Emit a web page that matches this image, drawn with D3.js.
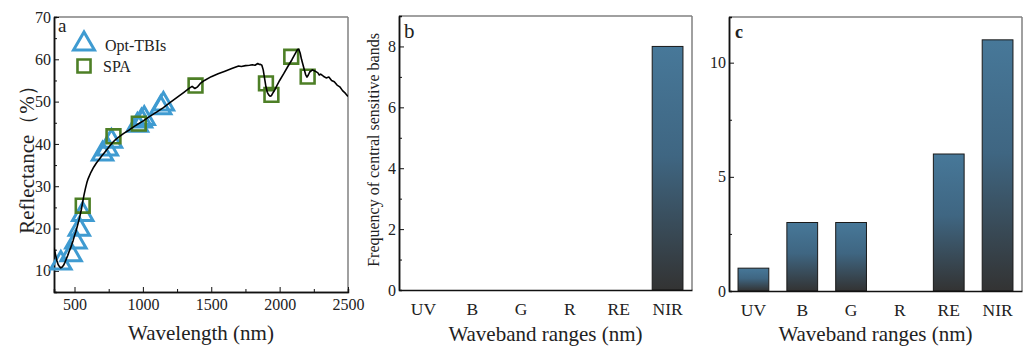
<!DOCTYPE html>
<html lang="en">
<head>
    <meta charset="UTF-8">
    <title>Sensitive bands</title>
    <script src="https://cdnjs.cloudflare.com/ajax/libs/d3/7.8.5/d3.min.js"></script>
    <style>
        body { margin: 0; background: #fff; }
        svg text { font-family: "Times New Roman", "Liberation Serif", Times, "DejaVu Serif", serif; fill: #222; }
    </style>
</head>
<body>
<div id="chart_holder"></div>

<script>
    var width = 1026;
    var height = 349;
    var serif = "'Times New Roman', 'Liberation Serif', Times, 'DejaVu Serif', serif";

    // reflectance spectrum (panel a)
    var specWl = [350,360,370,380,390,400,410,420,430,440,450,460,470,480,490,500,510,520,530,540,550,560,570,580,590,600,620,640,660,680,700,720,740,760,780,800,830,860,900,940,980,1000,1050,1100,1150,1200,1250,1300,1340,1360,1380,1400,1420,1450,1500,1550,1600,1650,1700,1720,1750,1780,1800,1820,1840,1850,1860,1870,1880,1890,1900,1910,1920,1930,1940,1950,1960,1980,2000,2030,2060,2090,2110,2130,2140,2150,2160,2180,2190,2200,2210,2220,2240,2260,2280,2290,2300,2320,2340,2360,2380,2400,2420,2440,2460,2480,2500];
    var specRefl = [15.5,14,12.5,11.5,11,10.7,10.9,11.3,12,12.8,13.6,14.5,15.3,16.2,17.2,18.3,19.3,20.5,21.7,23,24.5,26.3,28,29.5,30.8,31.8,33.3,34.5,35.5,36.3,37.2,38,38.8,39.6,40.4,41,41.8,42.5,43.3,44.2,45,45.4,46.5,47.5,48.6,49.8,51,52.2,53.2,53.6,53.1,53.5,54.3,55,55.9,56.6,57.2,57.8,58.4,58.3,58.5,58.6,58.7,58.6,59,58.8,58.8,58.6,57.5,55.5,53.5,52.2,51.6,51.3,51.4,52,52.5,53.8,55,56.6,58.3,59.9,61.1,62.3,62.4,61.5,60,57.6,56.4,55.8,56.3,57,57.5,57.2,56.8,56.3,56.5,56,55.6,55.8,55,54.7,53.9,53.5,52.6,52,51.2];

    // selected bands
    var tbiWl = [400,475,510,535,560,705,740,770,960,990,1010,1130,1150];
    var tbiRefl = [11.8,13.8,16.8,19.8,23.3,37.6,38.8,40.6,44.4,45.4,46,48.5,49.4];
    var spaWl = [560,785,970,1385,1900,1940,2085,2205];
    var spaRefl = [25.4,41.8,44.8,53.8,54.3,51.6,60.6,55.9];

    // panels b and c
    var bands = ["UV", "B", "G", "R", "RE", "NIR"];
    var freqB = [0, 0, 0, 0, 0, 8];
    var freqC = [1, 3, 3, 0, 6, 11];

    var svg = d3.select("#chart_holder")
        .append("svg")
        .attr("width", width)
        .attr("height", height);
    svg.append("rect")
        .attr("width", "100%")
        .attr("height", "100%")
        .attr("fill", "#ffffff");

    var defs = svg.append("defs");
    var grad = defs.append("linearGradient")
        .attr("id", "barGrad")
        .attr("x1", 0).attr("y1", 0)
        .attr("x2", 0).attr("y2", 1);
    grad.append("stop").attr("offset", "0%").attr("stop-color", "#477899");
    grad.append("stop").attr("offset", "45%").attr("stop-color", "#3f6682");
    grad.append("stop").attr("offset", "100%").attr("stop-color", "#333333");

    function frame(g, l, r, t, b) {
        g.append("line").attr("x1", l).attr("x2", r).attr("y1", t).attr("y2", t)
            .attr("stroke", "#808080").attr("stroke-width", 1.5);
        g.append("line").attr("x1", r).attr("x2", r).attr("y1", t).attr("y2", b)
            .attr("stroke", "#808080").attr("stroke-width", 1.5);
    }

    function styleAxis(sel, size) {
        sel.attr("font-family", serif);
        sel.selectAll(".domain").attr("stroke", "#111").attr("stroke-width", 1.5);
        sel.selectAll(".tick line").attr("stroke", "#111");
        sel.selectAll("text")
            .style("font-family", serif)
            .style("font-size", size || "16px")
            .attr("fill", "#222");
    }

    // ---------- panel a ----------
    var aL = 54, aR = 348, aT = 17, aB = 292;
    var xA = d3.scaleLinear().domain([350, 2500]).range([aL, aR]);
    var yA = d3.scaleLinear().domain([5, 70]).range([aB, aT]);

    var ga = svg.append("g");
    frame(ga, aL, aR, aT, aB);

    ga.append("g").attr("transform", "translate(0," + aB + ")")
        .call(d3.axisBottom(xA).tickValues([750, 1250, 1750, 2250]).tickSize(-3).tickFormat(""))
        .call(styleAxis);
    ga.append("g").attr("transform", "translate(0," + aB + ")")
        .call(d3.axisBottom(xA).tickValues([500, 1000, 1500, 2000, 2500]).tickFormat(d3.format("d"))
            .tickSizeInner(-5).tickSizeOuter(0).tickPadding(7))
        .call(styleAxis);
    ga.append("g").attr("transform", "translate(" + aL + ",0)")
        .call(d3.axisLeft(yA).tickValues([15, 25, 35, 45, 55, 65]).tickSize(-3).tickFormat(""))
        .call(styleAxis);
    ga.append("g").attr("transform", "translate(" + aL + ",0)")
        .call(d3.axisLeft(yA).tickValues([10, 20, 30, 40, 50, 60, 70]).tickSizeInner(-5).tickSizeOuter(0).tickPadding(3))
        .call(styleAxis);

    defs.append("clipPath").attr("id", "clipA")
        .append("rect").attr("x", aL).attr("y", aT).attr("width", aR - aL).attr("height", aB - aT);

    var tri = d3.symbol().type(d3.symbolTriangle).size(180);
    var sq = d3.symbol().type(d3.symbolSquare).size(190);

    ga.selectAll(".tri")
        .data(tbiWl.map(function (w, i) { return [w, tbiRefl[i]]; }))
        .enter()
        .append("path")
        .attr("d", tri)
        .attr("transform", function (d) { return "translate(" + xA(d[0]) + "," + yA(d[1]) + ")"; })
        .attr("fill", "none")
        .attr("stroke", "#3f9bd1")
        .attr("stroke-width", 3);

    ga.selectAll(".sq")
        .data(spaWl.map(function (w, i) { return [w, spaRefl[i]]; }))
        .enter()
        .append("path")
        .attr("d", sq)
        .attr("transform", function (d) { return "translate(" + xA(d[0]) + "," + yA(d[1]) + ")"; })
        .attr("fill", "none")
        .attr("stroke", "#4d7f26")
        .attr("stroke-width", 2.6);

    var spec = specWl.map(function (w, i) { return [w, specRefl[i]]; });
    ga.append("path")
        .datum(spec)
        .attr("clip-path", "url(#clipA)")
        .attr("d", d3.line().x(function (d) { return xA(d[0]); }).y(function (d) { return yA(d[1]); }))
        .attr("fill", "none")
        .attr("stroke", "#000")
        .attr("stroke-width", 1.6)
        .attr("stroke-linejoin", "round");

    // legend
    ga.append("path").attr("d", d3.symbol().type(d3.symbolTriangle).size(190))
        .attr("transform", "translate(84,44)")
        .attr("fill", "none").attr("stroke", "#3f9bd1").attr("stroke-width", 3);
    ga.append("text").attr("x", 105).attr("y", 51).style("font-size", "16px").text("Opt-TBIs");
    ga.append("path").attr("d", d3.symbol().type(d3.symbolSquare).size(170))
        .attr("transform", "translate(84,66)")
        .attr("fill", "none").attr("stroke", "#4d7f26").attr("stroke-width", 2.6);
    ga.append("text").attr("x", 103).attr("y", 72).style("font-size", "16px").text("SPA");

    ga.append("text").attr("x", 58).attr("y", 32).style("font-size", "19px").text("a");

    ga.append("text")
        .attr("transform", "translate(34," + ((aT + aB) / 2) + ") rotate(-90)")
        .attr("text-anchor", "middle")
        .style("font-size", "21px")
        .text("Reflectance（%）");
    ga.append("text")
        .attr("x", (aL + aR) / 2).attr("y", 340)
        .attr("text-anchor", "middle")
        .style("font-size", "21px")
        .text("Wavelength (nm)");

    // ---------- bar panels ----------
    function barPanel(l, r, t, b, yMax, major, minor, values, letter, letterStyle) {
        var g = svg.append("g");
        var x = d3.scaleBand().domain(bands).range([l, r]).paddingInner(0.37).paddingOuter(0.185);
        var y = d3.scaleLinear().domain([0, yMax]).range([b, t]);
        frame(g, l, r, t, b);

        g.selectAll(".bar")
            .data(values.map(function (v, i) { return {k: bands[i], v: v}; }).filter(function (d) { return d.v > 0; }))
            .enter()
            .append("rect")
            .attr("x", function (d) { return x(d.k); })
            .attr("y", function (d) { return y(d.v); })
            .attr("width", x.bandwidth())
            .attr("height", function (d) { return b - y(d.v); })
            .attr("fill", "url(#barGrad)")
            .attr("stroke", "#1a1a1a")
            .attr("stroke-width", 1);

        g.append("g").attr("transform", "translate(" + l + ",0)")
            .call(d3.axisLeft(y).tickValues(minor).tickSize(-3).tickFormat(""))
            .call(styleAxis);
        g.append("g").attr("transform", "translate(" + l + ",0)")
            .call(d3.axisLeft(y).tickValues(major).tickSizeInner(-5).tickSizeOuter(0).tickPadding(3))
            .call(styleAxis);
        g.append("g").attr("transform", "translate(0," + b + ")")
            .call(d3.axisBottom(x).tickSize(0).tickPadding(13))
            .call(styleAxis, "17.5px");

        g.append("text")
            .attr("x", (l + r) / 2).attr("y", 341)
            .attr("text-anchor", "middle")
            .style("font-size", "21px")
            .text("Waveband ranges (nm)");

        g.append("text").attr("x", letterStyle.x).attr("y", letterStyle.y)
            .style("font-size", letterStyle.size)
            .style("font-weight", letterStyle.weight)
            .text(letter);
        return g;
    }

    var gb = barPanel(399, 692, 16, 290, 9, [0, 2, 4, 6, 8], [1, 3, 5, 7], freqB, "b",
        {x: 404, y: 38, size: "21px", weight: "normal"});
    gb.append("text")
        .attr("transform", "translate(379,150) rotate(-90)")
        .attr("text-anchor", "middle")
        .style("font-size", "16px")
        .text("Frequency of central sensitive bands");

    barPanel(729, 1022, 17, 291, 12, [0, 5, 10], [2.5, 7.5], freqC, "c",
        {x: 735, y: 38, size: "18px", weight: "bold"});
</script>

</body>
</html>
